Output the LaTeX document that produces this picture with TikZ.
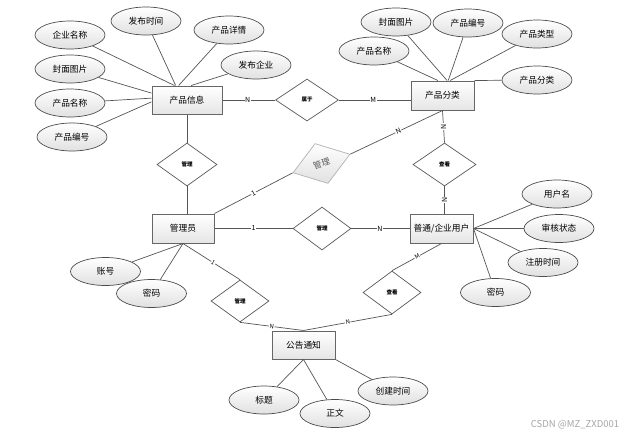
\documentclass[tikz,border=0pt]{standalone}
\usepackage{fontspec}
\setmainfont{Noto Sans CJK SC}
\usetikzlibrary{shapes.geometric,shadows}
\definecolor{lc}{HTML}{555555}
\begin{document}
\begin{tikzpicture}[x=1pt,y=-1pt,
 ent/.style={draw=black!60, line width=1pt, top color=white, bottom color=black!10, minimum height=28pt, inner sep=0pt, font=\fontsize{8.7}{10}\selectfont, drop shadow={shadow xshift=1pt, shadow yshift=-1pt, opacity=0.3}},
 attr/.style={ellipse, draw=black!70, line width=0.7pt, top color=white, bottom color=black!12, minimum width=70pt, minimum height=28pt, inner sep=0pt, font=\fontsize{8.7}{10}\selectfont},
 rel/.style={diamond, draw=black!65, line width=0.7pt, fill=white, minimum width=60pt, minimum height=42pt, inner sep=0pt, font=\bfseries\fontsize{5.5}{6}\selectfont},
 conn/.style={draw=lc, line width=0.7pt},
 lbl/.style={fill=white, inner sep=0.6pt, font=\fontsize{7}{8}\selectfont},
]
\useasboundingbox[fill=white] (0,0) rectangle (633,437);

% entities
\node[ent, minimum width=70pt] (pi) at (187,100) {产品信息};
\node[ent, minimum width=63pt, minimum height=29pt] (pc) at (442.5,95.5) {产品分类};
\node[ent, minimum width=62pt, minimum height=29pt] (mgr) at (183,228.5) {管理员};
\node[ent, minimum width=63pt, minimum height=29pt] (us) at (441.5,228.5) {普通/企业用户};
\node[ent, minimum width=63pt] (gg) at (303.5,345) {公告通知};

% relationships
\node[rel, minimum width=63pt] (sy) at (307,100) {属于};
\node[rel, minimum height=43pt] (mt) at (187,164.5) {管理};
\node[rel, minimum width=58pt, minimum height=43pt] (md) at (322,228.5) {管理};
\node[rel, minimum width=63pt, minimum height=43pt] (ck) at (444.5,164.5) {查看};
\node[rel, minimum width=58pt] (ld) at (240,301) {管理};
\node[rel, minimum width=58pt, minimum height=43pt] (lk) at (392,292.5) {查看};
\node[diamond, draw=black!30, line width=0.7pt, top color=white, bottom color=black!12, minimum width=60pt, minimum height=42pt, inner sep=0pt, rotate=18, text=black!65, font=\fontsize{8.5}{9}\selectfont] (rot) at (321.5,163.5) {管理};

% attributes of 产品信息
\node[attr] (a1) at (70,35) {企业名称};
\node[attr] (a2) at (146,21) {发布时间};
\node[attr] (a3) at (229,30) {产品详情};
\node[attr] (a4) at (256,65) {发布企业};
\node[attr] (a5) at (70,69) {封面图片};
\node[attr] (a6) at (70,103) {产品名称};
\node[attr] (a7) at (72,137) {产品编号};

% attributes of 产品分类
\node[attr] (b1) at (396,22) {封面图片};
\node[attr] (b2) at (468,23) {产品编号};
\node[attr] (b3) at (537,34) {产品类型};
\node[attr] (b4) at (374,51) {产品名称};
\node[attr] (b5) at (537,80) {产品分类};

% attributes of 普通/企业用户
\node[attr] (c1) at (557,194) {用户名};
\node[attr] (c2) at (559,228.5) {审核状态};
\node[attr] (c3) at (543,262.5) {注册时间};
\node[attr] (c4) at (495.5,292.5) {密码};

% attributes of 管理员
\node[attr] (d1) at (105.5,271.5) {账号};
\node[attr] (d2) at (151.5,293.5) {密码};

% attributes of 公告通知
\node[attr] (e1) at (264,400) {标题};
\node[attr] (e2) at (335,413.5) {正文};
\node[attr] (e3) at (393,391) {创建时间};

% attribute lines
\draw[conn] (a1) -- (pi.131);
\draw[conn] (a2) -- (pi.128);
\draw[conn] (a3) -- (pi.120);
\draw[conn] (a4) -- (pi.74);
\draw[conn] (a5) -- (pi.169);
\draw[conn] (a6) -- (pi.177);
\draw[conn] (a7) -- (pi.183);

\draw[conn] (b4) -- (pc.107);
\draw[conn] (b1) -- (pc.73);
\draw[conn] (b2) -- (pc.69);
\draw[conn] (b3) -- (pc.63);
\draw[conn] (b5) -- (pc.north east);

\draw[conn] (c1) -- (us.east);
\draw[conn] (c2) -- (us.east);
\draw[conn] (c3) -- (us.east);
\draw[conn] (c4) -- (us.east);

\draw[conn] (d1) -- (mgr.south);
\draw[conn] (d2) -- (mgr.south);

\draw[conn] (e1) -- (gg.south);
\draw[conn] (e2) -- (gg.south);
\draw[conn] (e3) -- (gg.south east);

% relationship lines
\draw[conn] (pi.east) -- node[lbl, pos=0.48] {N} (sy.west);
\draw[conn] (sy.east) -- node[lbl, pos=0.48] {M} (sy.east -| pc.west);
\draw[conn] (pi.south) -- (mt.north);
\draw[conn] (mt.south) -- (mt.south |- mgr.north);
\draw[conn] (mgr.east) -- node[lbl, pos=0.5] {1} (md.west);
\draw[conn] (md.east) -- node[lbl, pos=0.49] {N} (us.west);
\draw[conn] (pc.south) -- node[lbl, pos=0.5, rotate=90] {N} (ck.north);
\draw[conn] (ck.south) -- node[lbl, pos=0.5, rotate=90] {N} (ck.south |- us.north);
\draw[conn] (mgr.north east) -- node[lbl, pos=0.5, sloped] {1} (rot.west);
\draw[conn] (rot.east) -- node[lbl, pos=0.52, sloped] {N} (pc.south);
\draw[conn] (mgr.south) -- node[lbl, pos=0.53, sloped, font=\fontsize{6}{7}\selectfont] {1} (ld.north);
\draw[conn] (ld.south) -- node[lbl, pos=0.5, sloped, font=\fontsize{6}{7}\selectfont] {N} (gg.north);
\draw[conn] (us.south) -- node[lbl, pos=0.49, sloped, font=\fontsize{6}{7}\selectfont] {M} (lk.north);
\draw[conn] (lk.south) -- node[lbl, pos=0.5, sloped, font=\fontsize{6}{7}\selectfont] {N} (gg.north);

% watermark
\node[text=black!35, font=\fontsize{9.5}{11}\selectfont] (wm) at (575,425) {CSDN @MZ\_ZXD001};
\end{tikzpicture}
\end{document}
